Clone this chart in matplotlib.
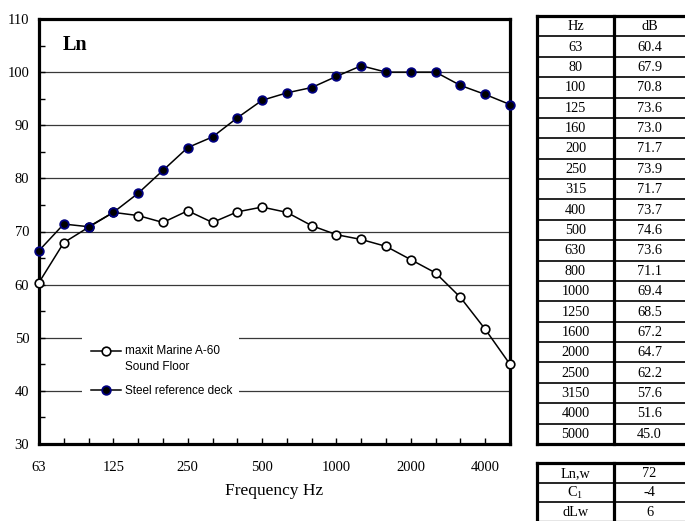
import matplotlib
matplotlib.use("Agg")
import numpy as np
import matplotlib.pyplot as plt
from matplotlib.lines import Line2D

# ---- data ----
freqs = ["63", "80", "100", "125", "160", "200", "250", "315", "400", "500",
         "630", "800", "1000", "1250", "1600", "2000", "2500", "3150", "4000", "5000"]
maxit = [60.4, 67.9, 70.8, 73.6, 73.0, 71.7, 73.9, 71.7, 73.7, 74.6,
         73.6, 71.1, 69.4, 68.5, 67.2, 64.7, 62.2, 57.6, 51.6, 45.0]
steel = [66.4, 71.4, 70.9, 73.6, 77.2, 81.5, 85.8, 87.8, 91.4, 94.7,
         96.1, 97.1, 99.2, 101.2, 100.0, 100.0, 100.0, 97.5, 95.8, 93.9]
label_maxit = "maxit Marine A-60\nSound Floor"
label_steel = "Steel reference deck"
summary_names = ["Ln,w", "C$_\\mathregular{1}$", "dLw"]
summary_vals = ["72", "-4", "6"]

serif = "Liberation Serif"
sans = "Liberation Sans"

W, H = 685, 521
fig = plt.figure(figsize=(W / 100, H / 100), dpi=100)

# ---- main chart ----
L, R, T, B = 39, 510, 19, 444
ax = fig.add_axes([L / W, (H - B) / H, (R - L) / W, (B - T) / H])
x = list(range(len(freqs)))
ax.plot(x, maxit, color="black", lw=1.1, marker="o", ms=6.2, mfc="white",
        mec="black", mew=1.2, clip_on=False, zorder=5, label=label_maxit)
ax.plot(x, steel, color="black", lw=1.1, marker="o", ms=6.2, mfc="black",
        mec="#000080", mew=1.3, clip_on=False, zorder=6, label=label_steel)

ax.set_xlim(0, len(freqs) - 1)
ax.set_ylim(30, 110)
ax.set_yticks(range(30, 111, 10))
ax.set_yticks(range(35, 110, 10), minor=True)
ax.set_xticks(x[::3])
ax.set_xticklabels([freqs[i] for i in x[::3]])
ax.set_xticks(x, minor=True)
ax.yaxis.grid(True, which="major", color="#383838", lw=0.9)
ax.set_axisbelow(True)
for s in ax.spines.values():
    s.set_linewidth(2.3)
    s.set_zorder(4)
ax.tick_params(axis="y", which="both", direction="in", length=4, width=1, pad=7,
               labelsize=10.5)
ax.tick_params(axis="x", which="both", direction="in", length=4, width=1, pad=12,
               labelsize=10.5)
for lab in ax.get_xticklabels() + ax.get_yticklabels():
    lab.set_fontfamily(serif)
ax.set_xlabel("Frequency Hz", fontfamily=serif, fontsize=12.5, labelpad=7)
ax.text(0.05, 0.94, "Ln", transform=ax.transAxes, fontfamily=serif,
        fontweight="bold", fontsize=14.5, va="center", ha="left")

leg = ax.legend(loc="upper left", bbox_to_anchor=(0.091, 0.254, 0.334, 0.0),
                mode="expand", frameon=True, fancybox=False, framealpha=1,
                facecolor="white", edgecolor="none", prop={"family": sans, "size": 8.5},
                handlelength=2.5, handletextpad=0.35, labelspacing=1.05,
                borderpad=0.8, borderaxespad=0)
leg.set_zorder(7)
leg.get_texts()[0].set_linespacing(1.4)
# align the first handle with the first line of its two-line label
h0 = leg.legend_handles[0]
h0.set_ydata(np.asarray(h0.get_ydata()) + 6.0)

# ---- tables ----
tab = fig.add_axes([0, 0, 1, 1], zorder=-1)
tab.set_xlim(0, W)
tab.set_ylim(H, 0)
tab.axis("off")

x0, xm, x1 = 537, 614, 690
thick, thin = 2.3, 1.2

def draw_table(top, rowh, rows):
    n = len(rows)
    bottom = top + n * rowh
    for i in range(1, n):
        y = top + i * rowh
        tab.add_line(Line2D([x0, x1], [y, y], color="black", lw=thin))
    for xx in (x0, xm, x1):
        tab.add_line(Line2D([xx, xx], [top, bottom], color="black", lw=thick))
    for y in (top, bottom):
        tab.add_line(Line2D([x0, x1], [y, y], color="black", lw=thick))
    for i, (a, b) in enumerate(rows):
        yc = top + (i + 0.5) * rowh + 0.5
        tab.text((x0 + xm) / 2, yc, a, ha="center", va="center",
                 fontfamily=serif, fontsize=10.3)
        tab.text((xm + x1 - 5) / 2, yc, b, ha="center", va="center",
                 fontfamily=serif, fontsize=10.3)

rows1 = [("Hz", "dB")] + [(f, f"{v:.1f}") for f, v in zip(freqs, maxit)]
draw_table(16, (444 - 16) / 21, rows1)
draw_table(463, 19.6, list(zip(summary_names, summary_vals)))

fig.savefig("out.png", dpi=100)
